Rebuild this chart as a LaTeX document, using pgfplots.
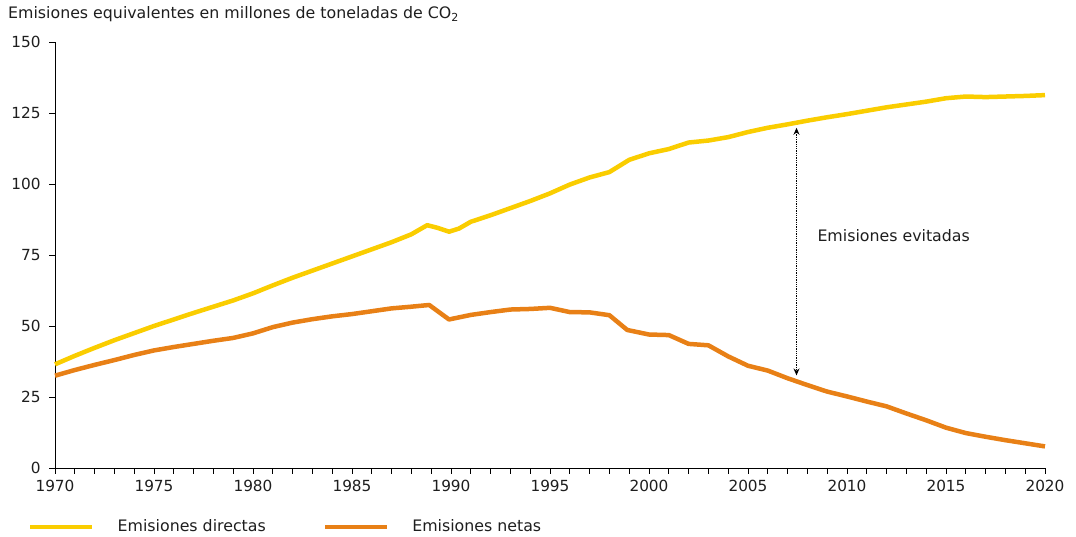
\documentclass[border=0pt]{standalone}
\usepackage{fontspec}
\setmainfont{DejaVu Sans}
\usepackage{pgfplots}
\pgfplotsset{compat=1.18}
\usetikzlibrary{arrows.meta}
\definecolor{cyel}{RGB}{250,205,0}
\definecolor{corg}{RGB}{232,128,22}
\definecolor{ctext}{RGB}{30,30,30}
\pgfplotstableread{
x y
1970 36.5
1971 39.5
1972 42.3
1973 45
1974 47.5
1975 50
1976 52.3
1977 54.6
1978 56.8
1979 59
1980 61.5
1981 64.3
1982 67
1983 69.5
1984 72
1985 74.5
1986 77
1987 79.5
1988 82.3
1988.8 85.5
1989.3 84.6
1989.9 83.2
1990.4 84.3
1991 86.7
1992 89
1993 91.5
1994 94
1995 96.7
1996 99.8
1997 102.3
1998 104.2
1999 108.5
2000 110.8
2001 112.3
2002 114.6
2003 115.3
2004 116.5
2005 118.3
2006 119.8
2007 121
2008 122.3
2009 123.5
2010 124.6
2011 125.8
2012 127
2013 128
2014 129
2015 130.2
2016 130.8
2017 130.6
2018 130.8
2019 131
2020 131.3
}\directas
\pgfplotstableread{
x y
1970 32.5
1971 34.5
1972 36.3
1973 38
1974 39.8
1975 41.4
1976 42.6
1977 43.7
1978 44.8
1979 45.8
1980 47.4
1981 49.6
1982 51.2
1983 52.4
1984 53.4
1985 54.2
1986 55.2
1987 56.2
1988 56.8
1988.9 57.4
1989.9 52.3
1991 53.9
1992 54.9
1993 55.8
1994 56
1995 56.4
1996 54.9
1997 54.8
1998 53.8
1998.9 48.6
2000 47
2001 46.8
2002 43.7
2003 43.2
2004 39.3
2005 36
2006 34.3
2007 31.6
2008 29.2
2009 26.9
2010 25.2
2011 23.4
2012 21.7
2013 19.2
2014 16.8
2015 14.2
2016 12.3
2017 11
2018 9.8
2019 8.7
2020 7.6
}\netas
\begin{document}
\fontsize{15.8bp}{19bp}\selectfont
\begin{tikzpicture}
\useasboundingbox (-55bp,-69bp) rectangle (1021bp,468bp);
\begin{axis}[
  at={(0,0)}, anchor=south west,
  scale only axis, width=990bp, height=426bp,
  xmin=1970, xmax=2020, ymin=0, ymax=150,
  axis x line=bottom, axis y line=left,
  axis line style={-, line width=0.8bp, black},
  tick align=outside,
  major tick length=6bp, minor tick length=6bp,
  tick style={line width=0.8bp, black},
  xtick={1970,1975,...,2020},
  minor x tick num=4,
  ytick={0,25,...,150},
  /pgf/number format/assume math mode=true,
  /pgf/number format/1000 sep={},
  tick label style={font=\fontsize{15.3bp}{18bp}\selectfont, text=ctext},
  yticklabel style={xshift=-3bp},
  xticklabel style={yshift=-1bp},
  clip=false,
  legend columns=2,
  legend style={draw=none, fill=none, at={(-27bp,-59bp)}, anchor=west, inner sep=0pt,
    font=\fontsize{15.8bp}{19bp}\selectfont, text=ctext,
    /tikz/every odd column/.append style={column sep=21bp},
    /tikz/every even column/.append style={column sep=55bp}},
  legend image code/.code={\draw[#1, line width=4.5bp] (0bp,0bp) -- (62bp,0bp);},
]
\addplot[cyel, line width=4.5bp, line join=round] table[x=x,y=y] {\directas};
\addlegendentry{Emisiones directas}
\addplot[corg, line width=4.5bp, line join=round] table[x=x,y=y] {\netas};
\addlegendentry{Emisiones netas}
\draw[dash pattern=on 1.3bp off 1bp, line width=1.5bp, black, {Stealth[length=7bp,width=6bp]}-{Stealth[length=7bp,width=6bp]}] (axis cs:2007.45,119.8) -- (axis cs:2007.45,32.6);
\node[anchor=west, text=ctext, inner sep=0pt] at (axis cs:2008.5,82) {Emisiones evitadas};
\end{axis}
\node[anchor=base west, text=ctext, inner sep=0pt] at (-47bp,449bp) {Emisiones equivalentes en millones de toneladas de CO\textsubscript{2}};
\end{tikzpicture}
\end{document}
